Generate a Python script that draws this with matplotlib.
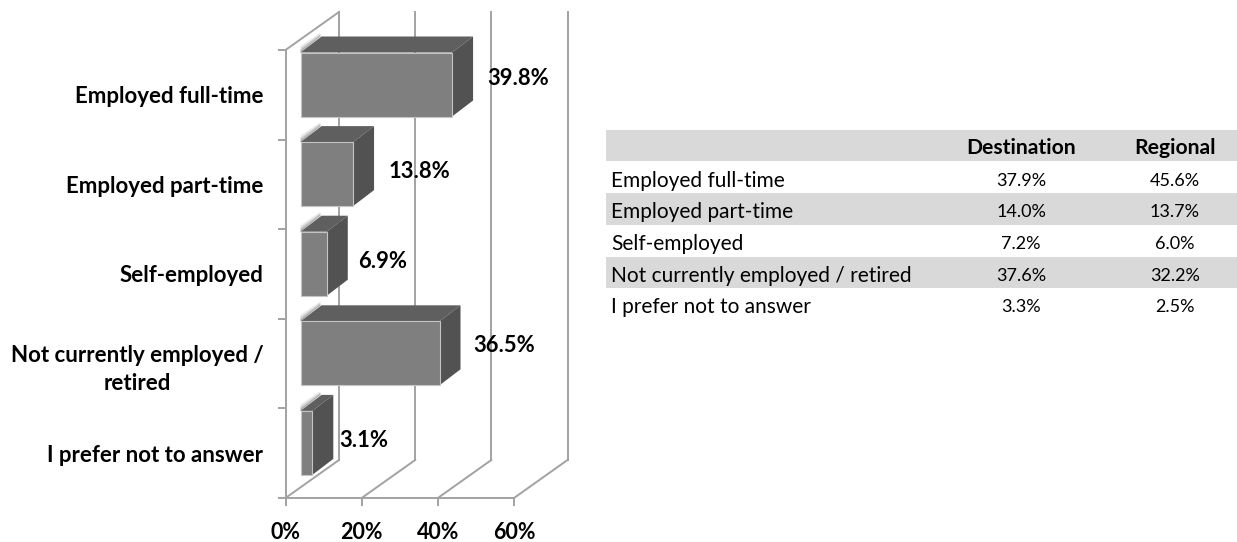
import matplotlib
matplotlib.use("Agg")
import matplotlib.pyplot as plt
from matplotlib.patches import Polygon, Rectangle

# ── Data ──────────────────────────────────────────────────────────────────────

CATEGORIES = [
    "Employed full-time",
    "Employed part-time",
    "Self-employed",
    "Not currently employed /\nretired",
    "I prefer not to answer",
]
OVERALL = [39.8, 13.8, 6.9, 36.5, 3.1]
X_TICKS = [0, 20, 40, 60]

TABLE_ROWS = [
    "Employed full-time",
    "Employed part-time",
    "Self-employed",
    "Not currently employed / retired",
    "I prefer not to answer",
]
DESTINATION = ["37.9%", "14.0%", "7.2%", "37.6%", "3.3%"]
REGIONAL = ["45.6%", "13.7%", "6.0%", "32.2%", "2.5%"]

# ── Style / layout ────────────────────────────────────────────────────────────

W, H = 1237, 542
FONT = "Lato"
GRID = "#a2a2a2"
FRONT = "#7f7f7f"
TOP = "#5f5f5f"
SIDE = "#525252"
BAND = "#d9d9d9"

plt.rcParams["font.family"] = [FONT, "DejaVu Sans"]

# plot area in pixels (front plane of the 3D box)
X0, X60 = 285.5, 514.0
Y_TOP, Y_BOT = 50.0, 498.0
PX_PER_PCT = (X60 - X0) / 60
PX_PER_CAT = (Y_BOT - Y_TOP) / 5

# depth of the box and of the bars, in data units
WALL_DX, WALL_DY = 53.5 / PX_PER_PCT, -38 / PX_PER_CAT
BAR_DX, BAR_DY = 21 / PX_PER_PCT, -16 / PX_PER_CAT
BAR_X0 = 15 / PX_PER_PCT
BAR_TOP, BAR_H = 2.5 / PX_PER_CAT, 64 / PX_PER_CAT

# label placement, Excel does not put these in a regular spot
LABEL_PAD = [35, 35, 31, 34, 27]
LABEL_LIFT = [6, 3, 2, 8, 2]


def px_axes(fig, left, top, right, bottom):
    return fig.add_axes([left / W, 1 - bottom / H, (right - left) / W, (bottom - top) / H])


fig = plt.figure(figsize=(W / 100, H / 100), dpi=100)

# ── 3D bar chart ──────────────────────────────────────────────────────────────

ax = px_axes(fig, X0, Y_TOP, X60, Y_BOT)
ax.set_xlim(0, 60)
ax.set_ylim(5, 0)
ax.patch.set_visible(False)
for side in ["top", "right", "left", "bottom"]:
    ax.spines[side].set_visible(False)

line = dict(color=GRID, lw=1.4, clip_on=False, solid_capstyle="projecting")

# walls and floor
ax.plot([0, 0], [0, 5], **line)
ax.plot([0, 60], [5, 5], **line)
ax.plot([0, WALL_DX], [0, WALL_DY], **line)
for x in X_TICKS:
    ax.plot([x, x + WALL_DX], [5, 5 + WALL_DY], **line)
    ax.plot([x + WALL_DX] * 2, [WALL_DY, 5 + WALL_DY], **line)

ax.set_xticks(X_TICKS)
ax.set_xticklabels([f"{x}%" for x in X_TICKS], fontsize=15.5, fontweight="bold", color="black")
ax.set_yticks(range(6))
ax.set_yticklabels([])
ax.set_yticks([i + 0.5 for i in range(5)], minor=True)
ax.set_yticklabels(CATEGORIES, minor=True, fontsize=16, fontweight="bold", color="black",
                   ha="right", multialignment="center", linespacing=1.45)
ax.tick_params(axis="both", which="major", color=GRID, width=1.4, length=6)
ax.tick_params(axis="x", pad=11)
ax.tick_params(axis="y", which="minor", length=0, pad=16)

for i, val in enumerate(OVERALL):
    x0 = BAR_X0
    x1 = BAR_X0 + val
    y0 = i + BAR_TOP
    y1 = y0 + BAR_H
    # soft shadow fading out along the left edge of the top face
    for shift, alpha in [(0.075, 0.12), (0.05, 0.22), (0.025, 0.35)]:
        ax.add_patch(Polygon([(x0, y0), (x0 + BAR_DX * 0.95, y0 + BAR_DY),
                              (x0 + BAR_DX * 0.95, y0 + BAR_DY - shift * 0.6), (x0, y0 - shift)],
                             fc="#707070", ec="none", alpha=alpha, clip_on=False, zorder=2))
    ax.add_patch(Polygon([(x0, y0), (x1, y0), (x1 + BAR_DX, y0 + BAR_DY), (x0 + BAR_DX, y0 + BAR_DY)],
                         fc=TOP, ec="none", clip_on=False, zorder=3))
    ax.add_patch(Polygon([(x1, y0), (x1 + BAR_DX, y0 + BAR_DY), (x1 + BAR_DX, y1 + BAR_DY), (x1, y1)],
                         fc=SIDE, ec="none", clip_on=False, zorder=3))
    ax.add_patch(Rectangle((x0, y0), val, BAR_H, fc=FRONT, ec="#c4c4c4", lw=0.8,
                           clip_on=False, zorder=3))
    ax.text(x1 + LABEL_PAD[i] / PX_PER_PCT, (y0 + y1) / 2 - LABEL_LIFT[i] / PX_PER_CAT,
            f"{val}%", fontsize=15.8, fontweight="bold", color="black",
            ha="left", va="center", clip_on=False, zorder=5)

# ── Table ─────────────────────────────────────────────────────────────────────

tb = px_axes(fig, 606, 130, 1237, 320)
tb.set_xlim(606, 1237)
tb.set_ylim(6, 0)
tb.axis("off")

tb.add_patch(Rectangle((606, 0), 631, 0.97, fc=BAND, ec="none"))
tb.text(1021, 0.58, "Destination", fontsize=15.2, fontweight="bold", ha="center", va="center")
tb.text(1175, 0.58, "Regional", fontsize=15.2, fontweight="bold", ha="center", va="center")

for i, (name, d, r) in enumerate(zip(TABLE_ROWS, DESTINATION, REGIONAL)):
    row = i + 1
    if i % 2 == 1:
        tb.add_patch(Rectangle((606, row), 631, 1, fc=BAND, ec="none"))
    tb.text(611, row + 0.6, name, fontsize=15, ha="left", va="center")
    tb.text(1021, row + 0.6, d, fontsize=13, ha="center", va="center")
    tb.text(1175, row + 0.6, r, fontsize=13, ha="center", va="center")

fig.savefig("out.png", dpi=100)
